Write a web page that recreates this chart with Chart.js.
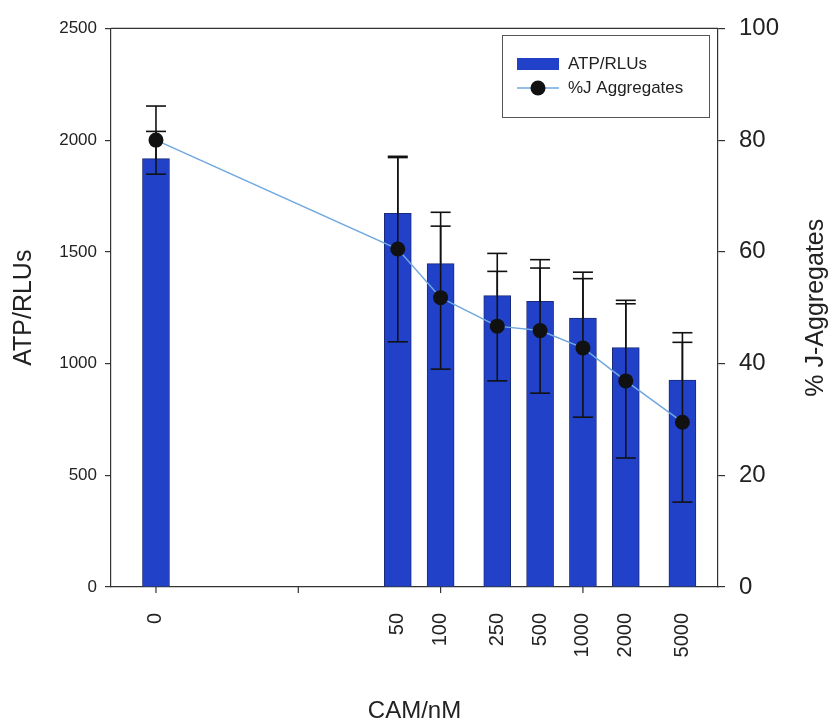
<!DOCTYPE html>
<html><head><meta charset="utf-8">
<script src="https://cdn.jsdelivr.net/npm/chart.js@4.4.1/dist/chart.umd.min.js"></script>
<style>html,body{margin:0;padding:0;background:#fff}#wrap{width:836px;height:726px}</style>
</head><body><div id="wrap"><canvas id="c" width="836" height="726"></canvas></div>
<script>
const doseLabels = ['0','50','100','250','500','1000','2000','5000'];
const doses = [0,50,100,250,500,1000,2000,5000];
const atpValues = [1917,1672,1447,1304,1279,1204,1071,926];
const atpErrors = [122,250,230,189,186,205,212,212];
const jaggValues = [80.0,60.5,51.8,46.7,45.9,42.8,36.9,29.5];
const jaggErrors = [6.1,16.6,12.8,9.8,11.2,12.4,13.8,14.3];
const leftTicks = [0,500,1000,1500,2000,2500];
const rightTicks = [0,20,40,60,80,100];
const decadeTicks = [1,10,100,1000];

const FONT = "'Liberation Sans', Arial, Helvetica, sans-serif";
const TXT = '#222';
const BAR = '#2142c8';
const BAR_EDGE = '#1a2a78';
const LINE = '#6fa8e0';

function pos(d){ return d <= 0 ? 0 : Math.log10(d); }
const xPos = doses.map(pos);

const atpData = xPos.map((x,i)=>({x:x, y:atpValues[i]}));
const jaggData = xPos.map((x,i)=>({x:x, y:jaggValues[i]}));

const decor = {
  id:'decor',
  afterDatasetDraw(chart, args){
    if(args.index !== 0) return;
    const ctx = chart.ctx, xs = chart.scales.x, ys = chart.scales.y, y1 = chart.scales.y1;
    const cap = 10;
    ctx.save();
    ctx.strokeStyle = '#111';
    ctx.lineWidth = 1.6;
    function seg(x1,y1_,x2,y2){ ctx.beginPath(); ctx.moveTo(x1,y1_); ctx.lineTo(x2,y2); ctx.stroke(); }
    for(let i=0;i<doses.length;i++){
      const px = xs.getPixelForValue(xPos[i]);
      const yb = ys.getPixelForValue(atpValues[i]);
      const ye = ys.getPixelForValue(atpValues[i]+atpErrors[i]);
      seg(px,yb,px,ye); seg(px-cap,ye,px+cap,ye);
      const yt = y1.getPixelForValue(jaggValues[i]+jaggErrors[i]);
      const yl = y1.getPixelForValue(jaggValues[i]-jaggErrors[i]);
      seg(px,yt,px,yl); seg(px-cap,yt,px+cap,yt); seg(px-cap,yl,px+cap,yl);
    }
    ctx.restore();
  },
  afterDraw(chart){
    const ctx = chart.ctx, a = chart.chartArea, xs = chart.scales.x;
    ctx.save();
    ctx.strokeStyle = '#333'; ctx.lineWidth = 1.2;
    ctx.beginPath(); ctx.moveTo(a.left, a.top); ctx.lineTo(a.right, a.top); ctx.stroke();
    decadeTicks.forEach(d=>{
      const px = xs.getPixelForValue(Math.log10(d));
      ctx.beginPath(); ctx.moveTo(px, a.bottom); ctx.lineTo(px, a.bottom+6); ctx.stroke();
    });
    ctx.fillStyle = TXT;
    ctx.font = "25px " + FONT;
    ctx.textAlign = 'center'; ctx.textBaseline = 'middle';
    ctx.translate(816, (a.top+a.bottom)/2);
    ctx.rotate(-Math.PI/2);
    ctx.fillText('% J-Aggregates', 0, 0);
    ctx.setTransform(1,0,0,1,0,0);
    const ds = chart.data.datasets;
    ctx.strokeStyle = '#555'; ctx.lineWidth = 1;
    ctx.strokeRect(502.5, 35.5, 207, 82);
    ctx.fillStyle = BAR;
    ctx.fillRect(517, 58, 42, 12);
    ctx.strokeStyle = LINE; ctx.lineWidth = 1.5;
    ctx.beginPath(); ctx.moveTo(517, 88); ctx.lineTo(559, 88); ctx.stroke();
    ctx.fillStyle = '#111';
    ctx.beginPath(); ctx.arc(538, 88, 7.5, 0, Math.PI*2); ctx.fill();
    ctx.fillStyle = TXT;
    ctx.font = "17px " + FONT;
    ctx.textAlign = 'left'; ctx.textBaseline = 'middle';
    ctx.fillText(ds[0].label, 568, 64);
    ctx.fillText(ds[1].label, 568, 88);
    ctx.restore();
  }
};

new Chart(document.getElementById('c'), {
  type: 'bar',
  data: {
    datasets: [
      { type:'bar', label:'ATP/RLUs', data: atpData, yAxisID:'y', order:2,
        backgroundColor: BAR, borderColor: BAR_EDGE, borderWidth: 1, barThickness: 27 },
      { type:'line', label:'%J Aggregates', data: jaggData, yAxisID:'y1', order:1,
        borderColor: LINE, borderWidth: 1.5, pointRadius: 7.5, pointHoverRadius: 7.5,
        pointBackgroundColor: '#111', pointBorderColor: '#111', pointBorderWidth: 0, tension: 0, fill:false }
    ]
  },
  options: {
    responsive: false,
    animation: false,
    devicePixelRatio: 1,
    layout: { padding: { top: 26, left: 0, right: 0, bottom: 0 } },
    plugins: { legend: { display:false }, tooltip: { enabled:false } },
    scales: {
      x: {
        type: 'linear', position: 'bottom', min: -0.316, max: 3.949, offset: false,
        afterBuildTicks(scale){ scale.ticks = xPos.map(v=>({value:v})); },
        afterFit(scale){ scale.height = 139; },
        grid: { display:false, offset:false },
        border: { display:true, color:'#333', width:1.2 },
        ticks: {
          autoSkip:false, minRotation:90, maxRotation:90, padding: 18,
          color: TXT, font: { family: FONT, size: 20 },
          callback(v){ const i = xPos.findIndex(p=>Math.abs(p-v)<1e-6); return i>=0 ? doseLabels[i] : ''; }
        },
        title: { display:true, text:'CAM/nM', color: TXT, font: { family: FONT, size: 24 }, padding: { top:0, bottom:0 } }
      },
      y: {
        type: 'linear', position: 'left', min: 0, max: 2500,
        afterBuildTicks(scale){ scale.ticks = leftTicks.map(v=>({value:v})); },
        afterFit(scale){ scale.width = 111; },
        grid: { drawOnChartArea:false, drawTicks:true, tickLength:6, color:'#333', lineWidth:1.2 },
        border: { display:true, color:'#333', width:1.2 },
        ticks: { padding: 8, color: TXT, font: { family: FONT, size: 17 }, callback(v){ return String(v); } },
        title: { display:true, text:'ATP/RLUs', color: TXT, font: { family: FONT, size: 25 }, padding: { top: 9, bottom: 0 } }
      },
      y1: {
        type: 'linear', position: 'right', min: 0, max: 100,
        afterBuildTicks(scale){ scale.ticks = rightTicks.map(v=>({value:v})); },
        afterFit(scale){ scale.width = 118; },
        grid: { drawOnChartArea:false, drawTicks:true, tickLength:7, color:'#333', lineWidth:1.2 },
        border: { display:true, color:'#333', width:1.2 },
        ticks: { padding: 14, color: TXT, font: { family: FONT, size: 24 }, callback(v){ return String(v); } }
      }
    }
  },
  plugins: [decor]
});
</script>
</body></html>
